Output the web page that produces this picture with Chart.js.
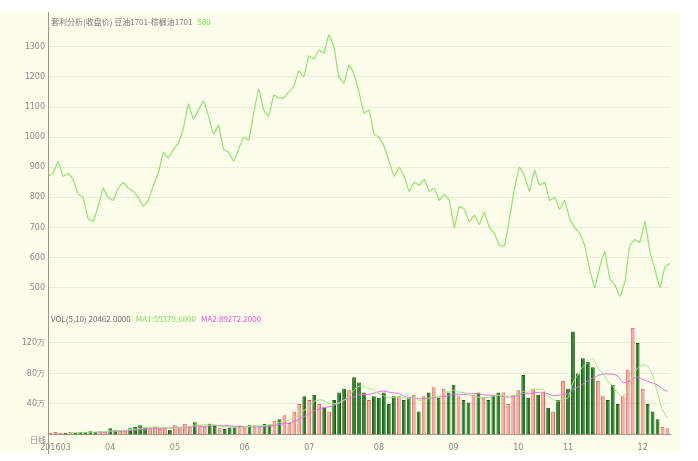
<!DOCTYPE html>
<html>
<head>
<meta charset="utf-8">
<script src="https://cdn.jsdelivr.net/npm/chart.js@4"></script>
<style>
body { margin: 0; background: #fff; font-family: "Noto Sans CJK SC", sans-serif; }
#wrap { position: absolute; left: 0; top: 12px; width: 680px; height: 440px; background: #fdfdec; }
canvas { position: absolute; left: 0; }
#c1 { top: 0; }
#c2 { top: 298px; }
</style>
</head>
<body>
<div id="wrap">
<canvas id="c1" width="680" height="300"></canvas>
<canvas id="c2" width="680" height="144"></canvas>
</div>
<script>
// closing price, one point per trading step
const prices = [870,880,920,870,880,860,810,800,730,720, 770,830,800,790,830,850,830,820,800,770,
    790,840,880,950,930,960,980,1030,1110,1060, 1090,1120,1070,1010,1040,960,950,920,960,1000,
    990,1080,1160,1090,1070,1140,1130,1130,1150,1170, 1220,1200,1270,1260,1290,1280,1340,1300,1200,1180,
    1240,1210,1150,1080,1090,1010,1000,970,920,870, 900,870,820,850,840,860,820,830,790,810,
    790,700,770,760,720,740,710,750,700,680, 640,640,730,830,900,870,820,890,840,850,
    790,800,760,790,730,700,680,640,560,500, 570,620,530,510,470,520,640,660,650,720,
    620,560,500,570,580];
// volume in 万
const volumes = [2,3,2,2,3,2,3,3,4,3, 4,3,8,6,5,5,8,10,12,9, 8,10,7,9,6,12,10,14,10,16,
    12,10,14,11,8,7,9,10,11,9, 12,12,11,14,13,18,20,25,15,30, 40,50,45,52,40,35,30,45,55,60,
    58,75,68,55,45,50,48,55,40,50, 50,45,48,52,30,50,55,62,48,60, 55,65,50,45,42,52,55,48,45,52,
    55,55,40,52,58,78,48,60,52,55, 35,30,45,70,60,135,80,100,95,88, 70,50,45,65,40,50,85,140,120,60,
    40,30,20,10,8];
const monthTicks = {1: '201603', 12: '04', 25: '05', 39: '06', 52: '07', 66: '08', 81: '09', 94: '10', 104: '11', 119: '12'};
const priceTicks = [500, 600, 700, 800, 900, 1000, 1100, 1200, 1300];
const volTicks = [40, 80, 120];

const labels = prices.map((p, i) => monthTicks[i] || '');
const up = prices.map((p, i) => i === 0 || p >= prices[i - 1]);

function ma(arr, n) {
    return arr.map((v, i) => {
        if (i < n - 1) return null;
        let s = 0;
        for (let k = i - n + 1; k <= i; k++) s += arr[k];
        return s / n;
    });
}

const gridColor = '#ecebd6';
const tickFont = { family: 'DejaVu Sans', size: 8 };
const leftW = 48;

const header = {
    id: 'header',
    afterDraw(chart, args, opts) {
        const c = chart.ctx;
        c.save();
        c.font = '8px "Noto Sans CJK SC"';
        c.textBaseline = 'middle';
        let x = chart.chartArea.left + 3;
        opts.parts.forEach(p => {
            c.fillStyle = p[1];
            c.fillText(p[0], x, opts.y);
            x += c.measureText(p[0]).width + 5;
        });
        c.strokeStyle = '#9a9a8a';
        c.lineWidth = 1;
        c.beginPath();
        c.moveTo(chart.chartArea.left + 0.5, 0);
        c.lineTo(chart.chartArea.left + 0.5, chart.height);
        c.stroke();
        c.restore();
    }
};

new Chart(document.getElementById('c1'), {
    type: 'line',
    data: {
        labels: labels,
        datasets: [{
            data: prices,
            borderColor: '#8ae66a',
            borderWidth: 1.2,
            pointRadius: 0,
            tension: 0.1
        }]
    },
    options: {
        responsive: false,
        animation: false,
        layout: { padding: { top: 6, right: 10 } },
        plugins: {
            legend: false,
            tooltip: { enabled: false },
            header: { y: 10, parts: [['套利分析(收盘价) 豆油1701-棕榈油1701', '#777'], ['580', '#6fdc4a']] }
        },
        scales: {
            x: { display: false },
            y: {
                min: 445, max: 1390,
                afterFit: (s) => { s.width = leftW; },
                afterBuildTicks: (s) => { s.ticks = priceTicks.map(v => ({ value: v })); },
                ticks: { font: tickFont, color: '#888', callback: v => String(v) },
                grid: { color: gridColor, drawTicks: false },
                border: { display: false }
            }
        }
    },
    plugins: [header]
});

new Chart(document.getElementById('c2'), {
    data: {
        labels: labels,
        datasets: [
            {
                type: 'line', data: ma(volumes, 5), borderColor: '#9be87f',
                borderWidth: 1, pointRadius: 0, tension: 0.3
            },
            {
                type: 'line', data: ma(volumes, 10), borderColor: '#e070e0',
                borderWidth: 1, pointRadius: 0, tension: 0.3
            },
            {
                type: 'bar', data: volumes,
                backgroundColor: up.map(u => u ? '#f6a8a0' : '#1e7d1e'),
                borderColor: up.map(u => u ? '#e8605a' : '#166016'),
                borderWidth: 1,
                categoryPercentage: 0.9,
                barPercentage: 0.85
            }
        ]
    },
    options: {
        responsive: false,
        animation: false,
        layout: { padding: { right: 10 } },
        plugins: {
            legend: false,
            tooltip: { enabled: false },
            header: { y: 9, parts: [['VOL(5,10) 20462.0000', '#666'], ['MA1:55379.6000', '#7ee05a'], ['MA2:89272.2000', '#e050e0']] }
        },
        scales: {
            x: {
                grid: { display: false },
                border: { color: '#9a9a8a' },
                ticks: {
                    autoSkip: false, maxRotation: 0, font: tickFont, color: '#888', padding: 1,
                    callback: (v, i) => labels[i]
                }
            },
            y: {
                min: 0, max: 153,
                afterFit: (s) => { s.width = leftW; },
                afterBuildTicks: (s) => { s.ticks = volTicks.map(v => ({ value: v })); },
                ticks: { font: tickFont, color: '#888', callback: v => v + '万' },
                grid: { color: gridColor, drawTicks: false },
                border: { display: false }
            }
        }
    },
    plugins: [header, {
        id: 'dayLabel',
        afterDraw(chart) {
            const c = chart.ctx;
            c.save();
            c.font = '8px "Noto Sans CJK SC"';
            c.fillStyle = '#888';
            c.textBaseline = 'top';
            c.fillText('日线', 30, chart.chartArea.bottom + 2);
            c.restore();
        }
    }]
});
</script>
</body>
</html>
